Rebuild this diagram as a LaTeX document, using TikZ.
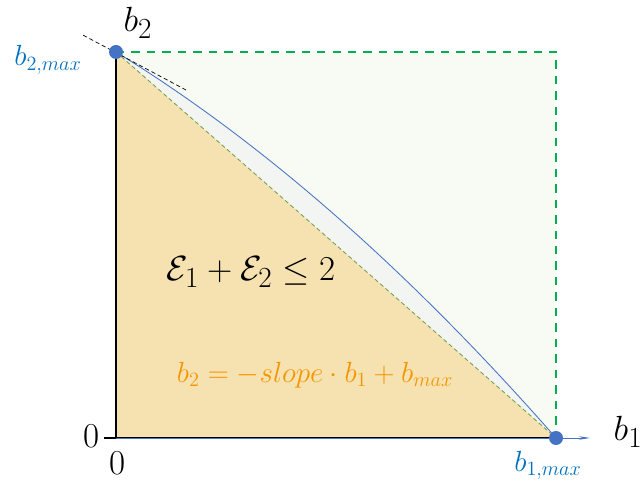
\documentclass[tikz,border=0pt]{standalone}
\usepackage{amsmath,amssymb}
\usetikzlibrary{arrows.meta}
\definecolor{fillgreen}{RGB}{248,251,243}
\definecolor{fillgray}{RGB}{243,245,242}
\definecolor{fillorange}{RGB}{246,225,176}
\definecolor{boxgreen}{RGB}{0,176,80}
\definecolor{diaggreen}{RGB}{112,160,80}
\definecolor{curveblue}{RGB}{68,114,196}
\definecolor{labelblue}{RGB}{0,112,192}
\definecolor{eqorange}{RGB}{245,150,0}

\begin{document}
\begin{tikzpicture}[
  dot/.style={fill=curveblue, draw=none},
  axislbl/.style={font=\fontsize{24}{26}\selectfont},
  maxlbl/.style={text=labelblue, font=\fontsize{21}{23}\selectfont},
  bigeq/.style={font=\fontsize{31}{34}\selectfont},
  smalleq/.style={text=eqorange, font=\fontsize{20}{22}\selectfont}]
\useasboundingbox (-2.9,-1.175) rectangle (13.1,10.95);
\coordinate (o) at (0,0);
\coordinate (b2max) at (0,9.65);
\coordinate (b1max) at (11,0);
\coordinate (corner) at (11,9.65);
\coordinate (xend) at (11.85,0);
\coordinate (tick) at (-0.3,0);
\coordinate (tana) at (-0.82,10.07);
\coordinate (tanb) at (1.75,8.7);
% regions
\fill[fillgreen] (o) rectangle (corner);
\fill[fillgray] (o) -- (b2max) .. controls (3.667,7.40) and (7.333,4.18) .. (b1max) -- cycle;
\fill[fillorange] (o) -- (b2max) -- (b1max) -- cycle;
\draw[boxgreen, line width=1.6pt, dash pattern=on 6pt off 5pt] (b2max) -- (corner) -- (b1max);
\draw[diaggreen, densely dashed, line width=0.6pt] (b2max) -- (b1max);
\draw[curveblue, line width=0.6pt] (b2max) .. controls (3.667,7.40) and (7.333,4.18) .. (b1max);
\draw[black, densely dashed, line width=0.5pt] (tana) -- (tanb);
% axes
\draw[black, line width=1.8pt] (o) -- (b2max);
\draw[black, line width=1.4pt] (tick) -- (b1max);
\draw[curveblue, line width=0.6pt, -{Stealth[length=8pt,width=2.5pt]}] (o) -- (xend);
\filldraw[dot] (b2max) circle (0.175);
\filldraw[dot] (b1max) circle (0.175);
% labels
\node[axislbl] (zeroy) at (-0.62,0.05) {$0$};
\node[axislbl] (zerox) at (0.03,-0.62) {$0$};
\node[font=\fontsize{32}{34}\selectfont] (b2lbl) at (0.55,10.38) {$b_2$};
\node[font=\fontsize{32}{34}\selectfont] (b1lbl) at (12.8,0.15) {$b_1$};
\node[maxlbl] (b2maxlbl) at (-1.7,9.45) {$b_{2,max}$};
\node[maxlbl] (b1maxlbl) at (10.8,-0.68) {$b_{1,max}$};
\node[bigeq] (cond) at (3.375,4.15) {$\mathcal{E}_1+\mathcal{E}_2\leq 2$};
\node[smalleq] (line) at (4.975,1.575) {$b_2=-slope\cdot b_1+b_{max}$};
\end{tikzpicture}
\end{document}
